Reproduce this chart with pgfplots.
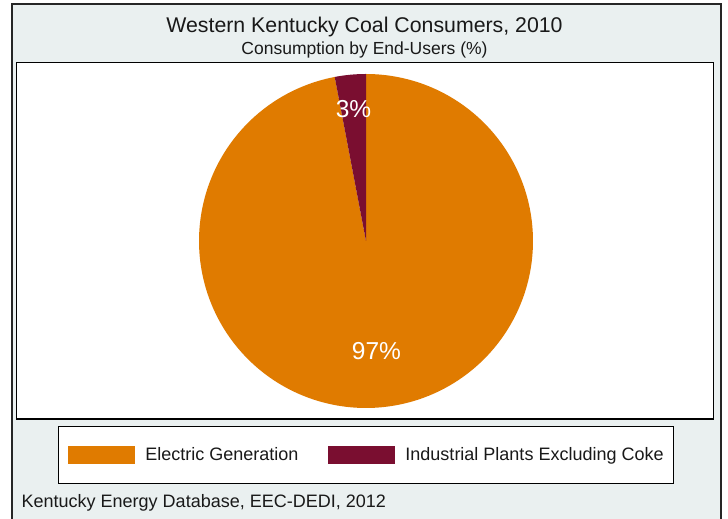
\documentclass[border=0pt]{standalone}
\usepackage{pgfplots}
\usepackage{pgfplotstable}
\pgfplotsset{compat=1.18}
\usepackage{fontspec}
\setmainfont{Liberation Sans}
\definecolor{elec}{RGB}{224,123,0}
\definecolor{indus}{RGB}{122,14,48}
\definecolor{bgc}{RGB}{234,240,240}
\definecolor{txt}{RGB}{25,25,25}
\pgfplotstableread{
share
97
3
}\pietable
\begin{document}%
\begin{tikzpicture}[x=1pt,y=1pt]
\pgfplotstablegetelem{0}{share}\of\pietable \let\vElec\pgfplotsretval
\pgfplotstablegetelem{1}{share}\of\pietable \let\vInd\pgfplotsretval
\pgfmathsetmacro{\aSplit}{90+3.6*\vInd}
\pgfmathsetmacro{\aEnd}{\aSplit+3.6*\vElec}
\pgfmathsetmacro{\mInd}{90+1.8*\vInd}
\pgfmathsetmacro{\mElec}{\aSplit+1.8*\vElec}
\useasboundingbox (0,0) rectangle (728,519);
\fill[bgc] (12,-10) rectangle (721,514.5);
\draw[line width=2pt, black!85] (12,-10) rectangle (721,514.5);
\node[anchor=base, txt, font=\fontsize{21.3}{25}\selectfont] at (364.5,486) {Western Kentucky Coal Consumers, 2010};
\node[anchor=base, txt, font=\fontsize{17.5}{21}\selectfont] at (364.5,464.5) {Consumption by End-Users (\%)};
\node[anchor=base west, inner sep=0pt, txt, font=\fontsize{18}{21}\selectfont] at (21.5,11) {Kentucky Energy Database, EEC-DEDI, 2012};
\begin{axis}[
  at={(16.5,100)}, anchor=south west,
  scale only axis, width=697pt, height=356.5pt,
  xmin=-349.5, xmax=347.5, ymin=-178, ymax=178.5,
  xtick=\empty, ytick=\empty,
  axis line style={line width=1.2pt, black},
  axis background/.style={fill=white},
  legend columns=2,
  legend style={at={(axis cs:0,-214)}, anchor=center, draw=black, line width=1.2pt,
    fill=white, inner xsep=9.5pt, inner ysep=19.5pt, font=\fontsize{18}{21}\selectfont,
    text=txt,
    /tikz/every even column/.append style={column sep=30pt},
    nodes={inner sep=0pt, anchor=west}},
  legend image code/.code={\fill[#1] (0pt,-8.75pt) rectangle (67pt,8.75pt);},
]
\addplot[fill=elec, draw=none, domain=\aSplit:\aEnd, samples=240, variable=\t]
  ({167*cos(\t)},{167*sin(\t)}) -- (axis cs:0,0) -- cycle;
\addlegendentry{\hspace{10pt}Electric Generation}
\addplot[fill=indus, draw=none, domain=90:\aSplit, samples=20, variable=\t]
  ({167*cos(\t)},{167*sin(\t)}) -- (axis cs:0,0) -- cycle;
\addlegendentry{\hspace{10pt}Industrial Plants Excluding Coke}
\node[white, font=\fontsize{24.5}{28}\selectfont] at (axis cs:{133*cos(\mInd)},{133*sin(\mInd)}) {3\%};
\node[white, font=\fontsize{24.5}{28}\selectfont] at (axis cs:{111*cos(\mElec)},{111*sin(\mElec)}) {97\%};
\end{axis}
\end{tikzpicture}%
\end{document}
